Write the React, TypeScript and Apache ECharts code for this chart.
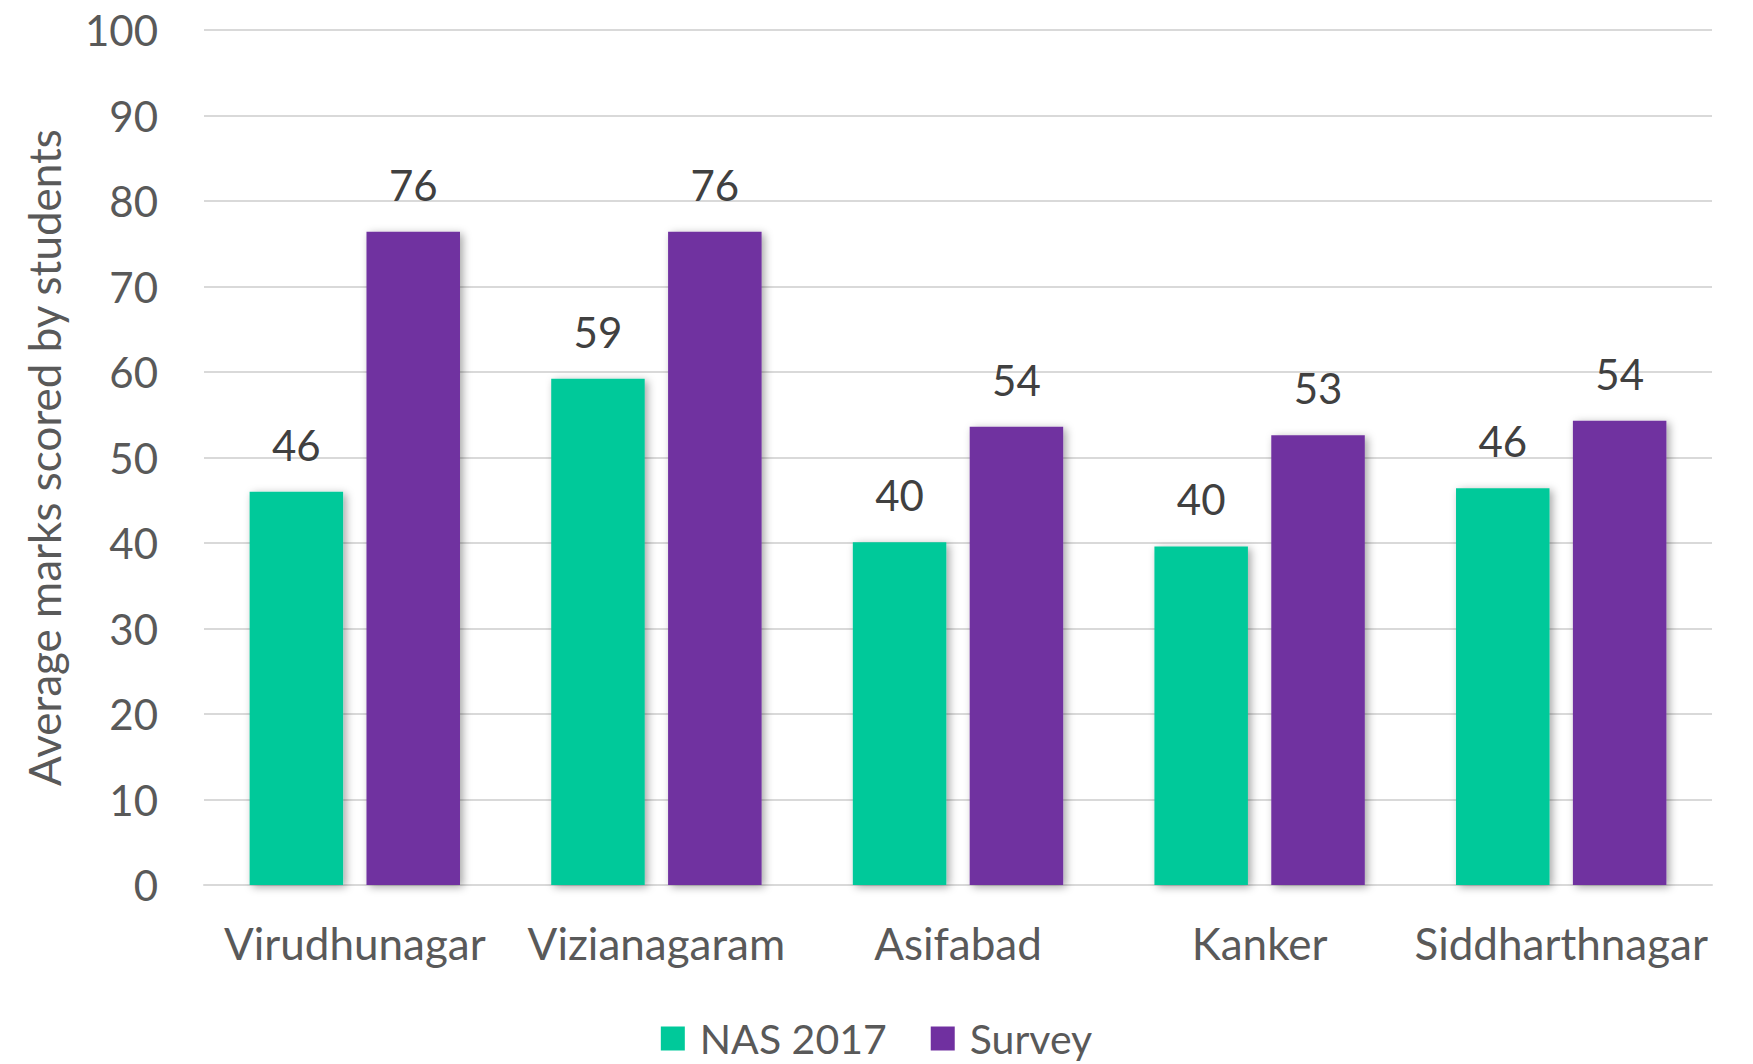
import React, { useEffect, useRef } from "react";
import * as echarts from "echarts";

const categories = ["Virudhunagar", "Vizianagaram", "Asifabad", "Kanker", "Siddharthnagar"];
const nas2017 = [46.0, 59.2, 40.1, 39.6, 46.4];
const survey = [76.4, 76.4, 53.6, 52.6, 54.3];
const seriesNames = ["NAS 2017", "Survey"];
const yAxisTitle = "Average marks scored by students";

const FONT = "Lato";

export default function App() {
  const ref = useRef<HTMLDivElement>(null);
  useEffect(() => {
    if (!ref.current) return;
    const chart = echarts.init(ref.current, null, { renderer: "svg" });
    const shadow = {
      shadowBlur: 8,
      shadowColor: "rgba(0,0,0,0.35)",
      shadowOffsetX: 3,
      shadowOffsetY: 2,
    };
    const label = {
      show: true,
      position: "top",
      distance: 26,
      color: "#404040",
      fontFamily: FONT,
      fontSize: 42,
      formatter: (p: any) => String(Math.round(p.value)),
    };
    chart.setOption({
      animation: false,
      backgroundColor: "#ffffff",
      grid: { left: 204, right: 41, top: 30, bottom: 179, containLabel: false },
      legend: {
        bottom: 0,
        left: "center",
        itemWidth: 24,
        itemHeight: 24,
        itemGap: 44,
        icon: "rect",
        textStyle: { color: "#595959", fontFamily: FONT, fontSize: 41, padding: [0, 0, 0, 10] },
        data: seriesNames,
      },
      xAxis: {
        type: "category",
        data: categories,
        axisLine: { show: true, lineStyle: { color: "#d9d9d9", width: 2 } },
        axisTick: { show: false },
        axisLabel: { color: "#595959", fontFamily: FONT, fontSize: 44, margin: 36, interval: 0 },
      },
      yAxis: {
        type: "value",
        min: 0,
        max: 100,
        interval: 10,
        name: yAxisTitle,
        nameLocation: "middle",
        nameGap: 138,
        nameTextStyle: { color: "#595959", fontFamily: FONT, fontSize: 44 },
        axisLine: { show: false },
        axisTick: { show: false },
        axisLabel: { color: "#595959", fontFamily: FONT, fontSize: 42, margin: 46 },
        splitLine: { lineStyle: { color: "#d9d9d9", width: 2 } },
      },
      series: [
        {
          name: seriesNames[0],
          type: "bar",
          data: nas2017,
          barWidth: "31%",
          barGap: "25%",
          itemStyle: { color: "#00C99A", ...shadow },
          label,
        },
        {
          name: seriesNames[1],
          type: "bar",
          data: survey,
          barWidth: "31%",
          barGap: "25%",
          itemStyle: { color: "#7030A0", ...shadow },
          label,
        },
      ],
    });
    return () => chart.dispose();
  }, []);
  return (
    <div
      ref={ref}
      style={{ position: "absolute", left: 0, top: 0, width: 1753, height: 1064 }}
    />
  );
}
